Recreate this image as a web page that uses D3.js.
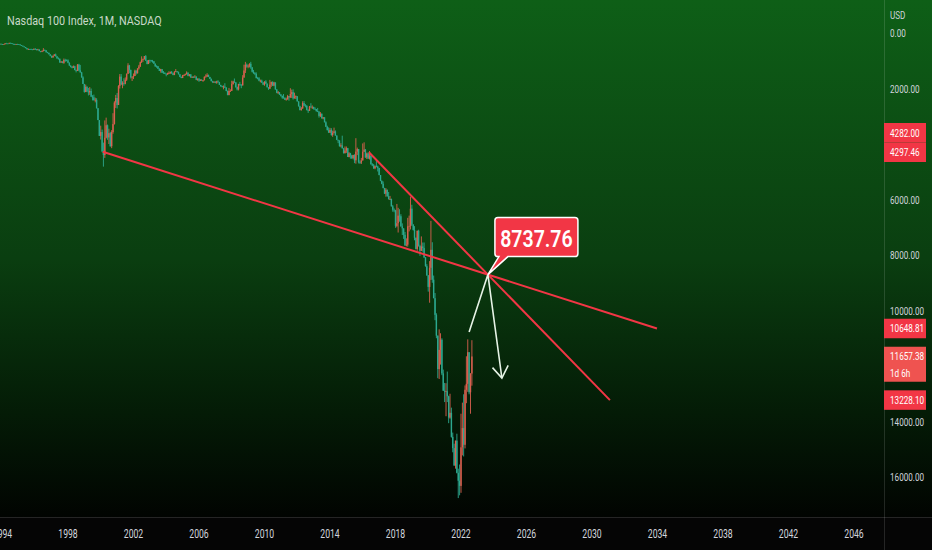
<!DOCTYPE html>
<html>
<head>
<meta charset="utf-8">
<script src="https://cdn.jsdelivr.net/npm/d3@7"></script>
<style>
  html, body { margin: 0; padding: 0; background: #000; overflow: hidden; }
  #chart { width: 932px; height: 550px; }
  text { font-family: Roboto, 'Noto Sans', sans-serif; }
</style>
</head>
<body>
<div id="chart"></div>
<script>
// monthly NDX candles, first bar is Oct 1993
const firstMonth = '1993-10-01'
const firstOpen = 372

const closes = [
  393, 390, 398,
  411, 402, 374, 376, 377, 357, 364, 393, 394, 414, 398, 404,
  415, 441, 459, 488, 506, 546, 585, 578, 581, 591, 594, 577,
  584, 609, 594, 654, 683, 655, 613, 624, 697, 714, 767, 821,
  880, 822, 776, 840, 914, 928, 1063, 1032, 1076, 970, 981, 990,
  1071, 1175, 1220, 1254, 1200, 1337, 1367, 1140, 1345, 1420, 1600, 1836,
  2128, 1940, 2106, 2140, 2091, 2296, 2318, 2418, 2407, 2712, 3137, 3708,
  3570, 4266, 4398, 3774, 3325, 3763, 3610, 4078, 3570, 3282, 2507, 2342,
  2594, 1908, 1573, 1855, 1800, 1830, 1683, 1469, 1168, 1329, 1596, 1577,
  1550, 1359, 1452, 1277, 1208, 1051, 963, 942, 832, 989, 1116, 984,
  986, 1010, 1018, 1106, 1201, 1201, 1288, 1368, 1304, 1431, 1432, 1468,
  1494, 1441, 1439, 1401, 1453, 1516, 1405, 1380, 1412, 1489, 1581, 1621,
  1519, 1515, 1483, 1428, 1543, 1493, 1605, 1580, 1601, 1573, 1687, 1645,
  1716, 1694, 1704, 1701, 1580, 1575, 1510, 1583, 1654, 1737, 1785, 1756,
  1790, 1744, 1772, 1870, 1914, 1934, 1931, 1970, 2091, 2239, 2089, 2084,
  1841, 1747, 1781, 1950, 2033, 1838, 1868, 1889, 1606, 1350, 1147, 1212,
  1176, 1109, 1237, 1397, 1445, 1478, 1628, 1635, 1718, 1716, 1787, 1860,
  1752, 1823, 1957, 2004, 1861, 1766, 1896, 1781, 2036, 2155, 2135, 2218,
  2263, 2332, 2338, 2409, 2394, 2274, 2326, 2197, 2132, 2355, 2313, 2278,
  2464, 2641, 2776, 2719, 2524, 2615, 2626, 2774, 2799, 2651, 2677, 2661,
  2731, 2739, 2819, 2828, 2988, 2910, 3078, 3038, 3218, 3378, 3502, 3592,
  3491, 3677, 3596, 3548, 3696, 3849, 3874, 4082, 4049, 4158, 4334, 4236,
  4151, 4468, 4334, 4415, 4509, 4396, 4588, 4274, 4181, 4648, 4664, 4593,
  4279, 4202, 4484, 4342, 4523, 4418, 4730, 4771, 4875, 4801, 4811, 4864,
  5117, 5331, 5436, 5584, 5788, 5647, 5880, 5988, 5979, 6248, 6367, 6397,
  6950, 6856, 6582, 6605, 6967, 7040, 7272, 7660, 7627, 6967, 6949, 6330,
  6906, 7097, 7378, 7781, 7127, 7672, 7848, 7692, 7750, 8084, 8403, 8733,
  9150, 8462, 7813, 8890, 9555, 10157, 10906, 12111, 11419, 11053, 12268, 12888,
  12925, 12909, 13091, 13860, 13687, 14554, 14959, 15583, 14690, 15850, 16135, 16320,
  14930, 14237, 14839, 12855, 12643, 11503, 12947, 12272, 11657.38
]

const highs = [
  400, 398, 402,
  415, 413, 405, 382, 383, 378, 368, 395, 400, 418, 416, 408,
  418, 443, 462, 490, 510, 548, 594, 590, 604, 600, 610, 605,
  590, 630, 615, 657, 695, 690, 660, 635, 700, 725, 770, 840,
  900, 890, 835, 845, 925, 955, 1070, 1075, 1090, 1110, 1040, 1020,
  1090, 1180, 1240, 1275, 1260, 1340, 1420, 1370, 1380, 1430, 1610, 1840,
  2150, 2130, 2130, 2250, 2230, 2300, 2430, 2440, 2500, 2720, 3140, 3710,
  3840, 4300, 4816, 4500, 3800, 3850, 4000, 4100, 4150, 3630, 3300, 2700,
  2720, 2560, 2000, 1880, 1990, 1900, 1850, 1730, 1480, 1450, 1640, 1730,
  1660, 1550, 1500, 1460, 1320, 1225, 1080, 1040, 960, 1010, 1130, 1120,
  1080, 1030, 1070, 1110, 1220, 1250, 1300, 1370, 1430, 1440, 1460, 1480,
  1560, 1510, 1480, 1480, 1470, 1520, 1515, 1400, 1430, 1490, 1590, 1630,
  1625, 1550, 1530, 1500, 1560, 1565, 1610, 1620, 1620, 1610, 1700, 1720,
  1760, 1730, 1710, 1760, 1710, 1590, 1580, 1590, 1660, 1740, 1790, 1800,
  1810, 1830, 1790, 1870, 1940, 1960, 2030, 1980, 2100, 2240, 2240, 2120,
  2090, 1860, 1800, 1970, 2070, 2070, 1900, 1990, 1890, 1610, 1440, 1250,
  1270, 1240, 1290, 1420, 1470, 1520, 1630, 1670, 1740, 1780, 1800, 1880,
  1900, 1830, 1960, 2050, 2020, 1940, 1910, 1920, 2040, 2170, 2200, 2230,
  2290, 2370, 2350, 2410, 2430, 2400, 2440, 2330, 2340, 2400, 2360, 2380,
  2470, 2650, 2790, 2800, 2730, 2630, 2680, 2790, 2880, 2810, 2690, 2740,
  2760, 2760, 2830, 2850, 3050, 3030, 3080, 3110, 3220, 3390, 3510, 3600,
  3600, 3700, 3740, 3620, 3700, 3860, 3970, 4090, 4120, 4160, 4340, 4330,
  4320, 4470, 4480, 4530, 4540, 4550, 4690, 4710, 4400, 4700, 4720, 4720,
  4590, 4290, 4500, 4540, 4540, 4560, 4740, 4800, 4900, 4910, 4840, 4990,
  5130, 5340, 5450, 5600, 5800, 5900, 5900, 6000, 6020, 6250, 6440, 6460,
  7020, 7000, 7190, 6800, 6980, 7280, 7420, 7660, 7690, 7700, 7150, 7080,
  6960, 7120, 7470, 7800, 7850, 7700, 8030, 7860, 7880, 8110, 8420, 8750,
  9320, 9720, 8900, 9000, 9560, 10350, 11000, 12440, 12470, 11950, 12330, 12900,
  13300, 13810, 13300, 14060, 13900, 14580, 15110, 15600, 15700, 15870, 16760, 16660,
  16570, 15220, 15260, 14970, 13340, 12930, 13020, 13720, 12710
]

const lows = [
  370, 378, 385,
  395, 398, 368, 356, 362, 350, 348, 362, 385, 390, 392, 390,
  398, 412, 436, 455, 480, 505, 540, 560, 572, 565, 585, 555,
  540, 575, 570, 590, 650, 630, 545, 590, 620, 680, 710, 780,
  815, 815, 760, 740, 835, 880, 920, 1010, 1020, 920, 930, 950,
  950, 1060, 1160, 1190, 1170, 1180, 1320, 1120, 1110, 1150, 1400, 1560,
  1840, 1860, 1920, 1980, 1950, 2000, 2240, 2220, 2330, 2350, 2700, 3140,
  3340, 3480, 3950, 3150, 3050, 3300, 3450, 3560, 3500, 2890, 2460, 2230,
  2160, 1880, 1480, 1480, 1740, 1630, 1600, 1460, 1090, 1150, 1320, 1560,
  1460, 1320, 1340, 1270, 1150, 1030, 840, 920, 830, 795, 980, 970,
  960, 970, 970, 1020, 1100, 1160, 1190, 1270, 1290, 1300, 1370, 1420,
  1460, 1430, 1380, 1390, 1370, 1440, 1370, 1300, 1370, 1390, 1480, 1570,
  1510, 1490, 1460, 1380, 1420, 1480, 1480, 1560, 1560, 1520, 1560, 1640,
  1630, 1660, 1660, 1690, 1560, 1490, 1450, 1500, 1580, 1640, 1720, 1740,
  1740, 1720, 1700, 1760, 1870, 1900, 1890, 1810, 1950, 2070, 1980, 2030,
  1720, 1720, 1640, 1770, 1930, 1830, 1760, 1840, 1520, 1140, 1040, 1100,
  1130, 1090, 1040, 1230, 1330, 1410, 1420, 1580, 1590, 1680, 1680, 1770,
  1740, 1700, 1830, 1950, 1690, 1750, 1740, 1760, 1780, 2020, 2090, 2130,
  2200, 2260, 2200, 2320, 2330, 2230, 2270, 1990, 2040, 2030, 2150, 2250,
  2290, 2460, 2620, 2670, 2460, 2450, 2560, 2600, 2750, 2630, 2530, 2610,
  2680, 2680, 2740, 2700, 2840, 2850, 2900, 3030, 3040, 3180, 3340, 3400,
  3420, 3430, 3520, 3410, 3510, 3690, 3850, 3870, 3970, 3700, 4140, 4090,
  4090, 4140, 4290, 4320, 4390, 4390, 4370, 3790, 4130, 4200, 4590, 4500,
  3980, 3940, 4180, 4310, 4300, 4250, 4410, 4690, 4720, 4770, 4600, 4780,
  4860, 5120, 5310, 5350, 5580, 5590, 5650, 5730, 5870, 5970, 6200, 6320,
  6370, 6160, 6300, 6350, 6530, 6860, 7050, 7170, 7400, 6660, 6580, 5900,
  6190, 6890, 6960, 7370, 7120, 7090, 7630, 7330, 7550, 7550, 8080, 8330,
  8720, 8220, 6770, 7540, 8740, 9370, 10100, 10900, 10680, 10820, 11000, 12130,
  12610, 12620, 12200, 13070, 13000, 13500, 14400, 14800, 14690, 14440, 15700, 15550,
  13720, 13320, 13020, 12700, 11650, 11040, 11530, 12260, 11070
]

const priceTicks = [0, 2000, 6000, 8000, 10000, 14000, 16000]
const yearTicks = [1994, 1998, 2002, 2006, 2010, 2014, 2018, 2022, 2026, 2030, 2034, 2038, 2042, 2046]

// drawings: [date, price]
const trendLineA = [['2000-02-15', 4282.00], ['2033-12-20', 10648.81]]
const trendLineB = [['2016-05-18', 4297.46], ['2031-02-05', 13228.10]]
const arrowStart = ['2022-07-01', 10775]
const arrowTip = ['2024-07-01', 12432]
const crossLabel = '8737.76'

const lineLabels = [4282.00, 4297.46, 10648.81, 13228.10]
const lastPrice = 11657.38
const countdown = '1d 6h'
const title = 'Nasdaq 100 Index, 1M, NASDAQ'
const currency = 'USD'

class InvertedCandles {
  constructor(id) {
    this.id = id
    this.width = 932
    this.height = 550
    this.paneRight = 884
    this.paneBottom = 517
    this.parse = d3.timeParse('%Y-%m-%d')
    this.render()
  }

  squeeze(sel, x, y, sx = 0.78) {
    return sel.attr('transform', `translate(${x},${y}) scale(${sx},1)`)
  }

  render() {
    const svg = d3.select(this.id).append('svg')
      .attr('width', this.width)
      .attr('height', this.height)
      .attr('viewBox', [0, 0, this.width, this.height])

    const defs = svg.append('defs')
    const grad = defs.append('linearGradient')
      .attr('id', 'bg').attr('x1', 0).attr('x2', 0).attr('y1', 0).attr('y2', 1)
    grad.append('stop').attr('offset', '0%').attr('stop-color', '#0e5f17')
    grad.append('stop').attr('offset', '50%').attr('stop-color', '#0a3e10')
    grad.append('stop').attr('offset', '80%').attr('stop-color', '#041b06')
    grad.append('stop').attr('offset', '100%').attr('stop-color', '#010401')
    defs.append('clipPath').attr('id', 'pane')
      .append('rect').attr('width', this.paneRight).attr('height', this.paneBottom)

    svg.append('rect').attr('width', this.width).attr('height', this.height).attr('fill', '#050505')
    svg.append('rect').attr('width', this.width).attr('height', this.paneBottom).attr('fill', 'url(#bg)')

    this.x = d3.scaleTime()
      .domain([this.parse('1994-01-01'), this.parse('2046-01-01')])
      .range([2.5, 854])
    this.y = d3.scaleLinear().domain([0, 16000]).range([33, 477])

    const start = this.parse(firstMonth)
    this.bars = closes.map((c, i) => {
      const open = i === 0 ? firstOpen : closes[i - 1]
      return {
        date: d3.timeMonth.offset(start, i),
        open, close: c,
        high: Math.max(highs[i], open, c),
        low: Math.min(lows[i], open, c)
      }
    })

    const pane = svg.append('g').attr('clip-path', 'url(#pane)')
    this.drawCandles(pane)
    this.drawDrawings(pane)
    this.drawAxes(svg)
    this.drawPriceLabels(svg)

    this.squeeze(svg.append('text'), 7, 25, 0.8)
      .attr('fill', '#c9d8c9').attr('font-size', 13.5).text(title)
  }

  drawCandles(g) {
    const up = '#2ca88f', down = '#d9604f'
    const color = d => (d.close >= d.open ? up : down)
    g.append('g').selectAll('line').data(this.bars).join('line')
      .attr('x1', d => this.x(d.date)).attr('x2', d => this.x(d.date))
      .attr('y1', d => this.y(d.low)).attr('y2', d => this.y(d.high))
      .attr('stroke', color).attr('stroke-width', 0.9)
    g.append('g').selectAll('rect').data(this.bars).join('rect')
      .attr('x', d => this.x(d.date) - 0.7)
      .attr('width', 1.4)
      .attr('y', d => this.y(Math.min(d.open, d.close)))
      .attr('height', d => Math.max(0.8, Math.abs(this.y(d.close) - this.y(d.open))))
      .attr('fill', color)
  }

  pt(p) {
    return [this.x(this.parse(p[0])), this.y(p[1])]
  }

  drawDrawings(g) {
    const a0 = this.pt(trendLineA[0]), a1 = this.pt(trendLineA[1])
    const b0 = this.pt(trendLineB[0]), b1 = this.pt(trendLineB[1])
    const line = d3.line()
    g.append('path').attr('d', line([a0, a1]))
      .attr('stroke', '#f23645').attr('stroke-width', 2).attr('fill', 'none')
    g.append('path').attr('d', line([b0, b1]))
      .attr('stroke', '#f23645').attr('stroke-width', 2).attr('fill', 'none')

    // crossing point of the two trend lines
    const d1 = [a1[0] - a0[0], a1[1] - a0[1]]
    const d2 = [b1[0] - b0[0], b1[1] - b0[1]]
    const den = d1[0] * d2[1] - d1[1] * d2[0]
    const t = ((b0[0] - a0[0]) * d2[1] - (b0[1] - a0[1]) * d2[0]) / den
    const ix = a0[0] + t * d1[0], iy = a0[1] + t * d1[1]

    const s = this.pt(arrowStart), tip = this.pt(arrowTip)
    const white = '#e6f3e6'
    g.append('path').attr('d', line([s, [ix, iy], tip]))
      .attr('stroke', white).attr('stroke-width', 1.6).attr('fill', 'none')
    const ang = Math.atan2(tip[1] - iy, tip[0] - ix)
    const wing = da => [tip[0] - 14 * Math.cos(ang + da), tip[1] - 14 * Math.sin(ang + da)]
    g.append('path').attr('d', line([wing(0.6), tip, wing(-0.6)]))
      .attr('stroke', white).attr('stroke-width', 1.6).attr('fill', 'none')

    // callout box
    const left = ix + 7, top = iy - 57, w = 83, h = 39, r = 3
    const right = left + w, bottom = top + h
    const p = d3.path()
    p.moveTo(left + r, top)
    p.lineTo(right - r, top)
    p.quadraticCurveTo(right, top, right, top + r)
    p.lineTo(right, bottom - r)
    p.quadraticCurveTo(right, bottom, right - r, bottom)
    p.lineTo(left + 13, bottom)
    p.lineTo(ix, iy)
    p.lineTo(left + 4, bottom)
    p.lineTo(left + r, bottom)
    p.quadraticCurveTo(left, bottom, left, bottom - r)
    p.lineTo(left, top + r)
    p.quadraticCurveTo(left, top, left + r, top)
    p.closePath()
    g.append('path').attr('d', p.toString())
      .attr('fill', '#f23645').attr('stroke', '#ffffff').attr('stroke-width', 1.5)
    this.squeeze(g.append('text'), left + w / 2, top + 29, 0.85)
      .attr('text-anchor', 'middle').attr('fill', '#fff')
      .attr('font-size', 23).attr('font-weight', 600).text(crossLabel)
  }

  drawAxes(svg) {
    const grid = 'rgba(255,255,255,0.13)'
    svg.append('line').attr('x1', 0).attr('x2', this.width)
      .attr('y1', this.paneBottom + 0.5).attr('y2', this.paneBottom + 0.5).attr('stroke', grid)
    svg.append('line').attr('x1', this.paneRight + 0.5).attr('x2', this.paneRight + 0.5)
      .attr('y1', 0).attr('y2', this.height).attr('stroke', grid)

    const yl = svg.append('g').attr('fill', '#d1d4dc').attr('font-size', 11)
    priceTicks.forEach(v => {
      this.squeeze(yl.append('text'), 890, this.y(v) + 4, 0.74).text(d3.format('.2f')(v))
    })
    this.squeeze(yl.append('text'), 890, 19, 0.74).text(currency)

    const xl = svg.append('g').attr('fill', '#d1d4dc').attr('font-size', 12)
      .attr('text-anchor', 'middle')
    yearTicks.forEach(yr => {
      this.squeeze(xl.append('text'), this.x(new Date(yr, 0, 1)), 538, 0.72).text(yr)
    })
  }

  drawPriceLabels(svg) {
    const fmt = d3.format('.2f')
    const items = lineLabels.map(v => ({ lines: [fmt(v)], y: this.y(v), h: 19.5, fill: '#f23645' }))
    items.push({ lines: [fmt(lastPrice), countdown], y: this.y(lastPrice), h: 35, fill: '#ef5350' })
    items.forEach(d => { d.top = d.y - 9.75 })
    // push overlapping labels upward, the lowest one keeps its place
    items.sort((a, b) => b.y - a.y)
    for (let i = 1; i < items.length; i++) {
      const prev = items[i - 1], cur = items[i]
      if (cur.top + cur.h > prev.top) cur.top = prev.top - cur.h
    }
    const g = svg.append('g')
    items.forEach(d => {
      g.append('rect').attr('x', this.paneRight).attr('y', d.top)
        .attr('width', 42).attr('height', d.h).attr('fill', d.fill)
      d.lines.forEach((t, k) => {
        this.squeeze(g.append('text'), 890, d.top + 13.5 + k * 16.5, 0.74)
          .attr('fill', '#fff').attr('font-size', 11).text(t)
      })
    })
  }
}

const chart = new InvertedCandles('#chart')
</script>
</body>
</html>
